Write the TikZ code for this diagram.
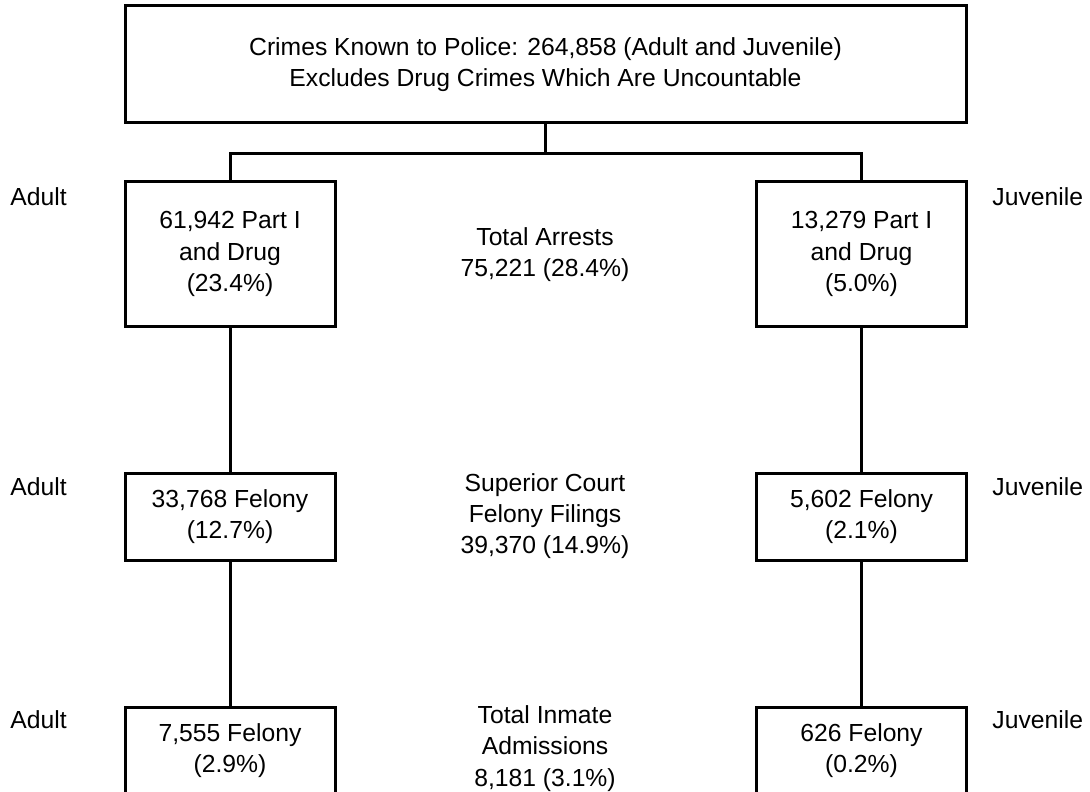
\documentclass[tikz,border=0pt]{standalone}
\usepackage{fontspec}
\setmainfont{Liberation Sans}
\usetikzlibrary{positioning}
\tikzstyle{crimebox} = [rectangle, minimum width=420.5pt, minimum height=58.5pt, text centered, draw=black, line width=1.5pt, align=center, inner sep=0pt]
\tikzstyle{countbox} = [rectangle, minimum width=105pt, minimum height=72pt, text centered, draw=black, line width=1.5pt, align=center, inner sep=0pt]
\tikzstyle{felonybox} = [countbox, minimum height=43.5pt]
\tikzstyle{total} = [align=center, inner sep=0pt]
\tikzstyle{side} = [anchor=west, inner sep=0pt]
\tikzstyle{line} = [line width=1.5pt]

\begin{document}
\begin{tikzpicture}[x=0.5pt, y=-0.5pt, font=\fontsize{12.35}{15.6}\selectfont]

            \useasboundingbox (0,0) rectangle (1090,791);
            \clip (0,0) rectangle (1090,791);

            \node (crimes) [crimebox] at (545.5,64.5) {Crimes Known to Police: 264,858 (Adult and Juvenile)\\Excludes Drug Crimes Which Are Uncountable};

            \node (adultarr) [countbox] at (230,254) {61,942 Part I\\and Drug\\(23.4\%)};

            \node (juvarr) [countbox] at (861.5,254) {13,279 Part I\\and Drug\\(5.0\%)};

            \node (adultfel) [felonybox] at (230,516.5) {33,768 Felony\\(12.7\%)};

            \node (juvfel) [felonybox] at (861.5,516.5) {5,602 Felony\\(2.1\%)};

            \node (adultinm) [felonybox] at (230,750.5) {7,555 Felony\\(2.9\%)};

            \node (juvinm) [felonybox] at (861.5,750.5) {626 Felony\\(0.2\%)};

            \node (arrests) [total] at (545,255) {Total Arrests\\75,221 (28.4\%)};

            \node (filings) [total] at (545,516) {Superior Court\\Felony Filings\\39,370 (14.9\%)};

            \node (admits) [total] at (545,748.5) {Total Inmate\\Admissions\\8,181 (3.1\%)};

            \node (adult1) [side] at (10,197) {Adult};
            \node (adult2) [side] at (10,487) {Adult};
            \node (adult3) [side] at (10,720) {Adult};
            \node (juv1) [side] at (992,197) {Juvenile};
            \node (juv2) [side] at (992,487) {Juvenile};
            \node (juv3) [side] at (992,720) {Juvenile};


            \draw [line] (crimes.south) -- ++(0,29.5) coordinate (split);
            \draw [line] (adultarr.north) |- (split) -| (juvarr.north);
            \draw [line] (adultarr) -- (adultfel);
            \draw [line] (adultfel) -- (adultinm);
            \draw [line] (juvarr) -- (juvfel);
            \draw [line] (juvfel) -- (juvinm);


\end{tikzpicture}
\end{document}
